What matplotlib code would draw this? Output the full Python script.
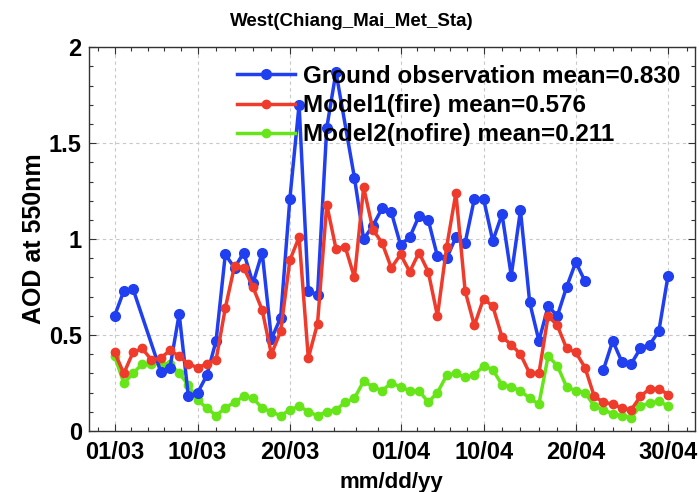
import numpy as np
import matplotlib
matplotlib.use("Agg")
import matplotlib.pyplot as plt
from matplotlib.ticker import FixedLocator

nan = np.nan

# day index from 01/03 (0) to 30/04 (60)
days = np.arange(61)

# ground observations only exist on some days (NaN = break in the line)
ground_days = [0, 1, 2, 5, 6, 7, 8, 9, 10, 11, 12, 13, 14, 15, 16, 17, 18,
               19, 20, 21, 22, 23, 24, 26, 27, 28, 29, 30, 31, 32, 33, 34,
               35, 36, 37, 38, 39, 40, 41, 42, 43, 44, 45, 46, 47, 48, 49,
               50, 51, 52, 53, 54, 55, 56, 57, 58, 59, 60]
ground_obs = [0.60, 0.73, 0.74, 0.31, 0.33, 0.61, 0.18, 0.20, 0.29, 0.47,
              0.92, 0.85, 0.93, 0.77, 0.93, 0.48, 0.59, 1.21, 1.70, 0.73,
              0.71, 1.58, 1.87, 1.32, 1.00, 1.07, 1.16, 1.14, 0.97, 1.01,
              1.12, 1.10, 0.91, 0.90, 1.01, 0.98, 1.21, 1.21, 0.99, 1.13,
              0.81, 1.15, 0.67, 0.47, 0.65, 0.60, 0.75, 0.88, 0.78, nan,
              0.32, 0.47, 0.36, 0.35, 0.43, 0.45, 0.52, 0.81]

model1_fire = [0.41, 0.30, 0.41, 0.43, 0.37, 0.38, 0.42, 0.39, 0.35, 0.33,
               0.35, 0.37, 0.64, 0.86, 0.85, 0.75, 0.63, 0.40, 0.52, 0.89,
               1.01, 0.38, 0.56, 1.18, 0.95, 0.96, 0.80, 1.27, 1.05, 0.98,
               0.85, 0.92, 0.83, 0.93, 0.83, 0.60, 0.96, 1.24, 0.73, 0.55,
               0.69, 0.65, 0.49, 0.45, 0.40, 0.30, 0.30, 0.60, 0.55, 0.43,
               0.41, 0.33, 0.18, 0.15, 0.14, 0.12, 0.11, 0.18, 0.22, 0.22,
               0.19]

model2_nofire = [0.39, 0.25, 0.30, 0.35, 0.35, 0.35, 0.35, 0.30, 0.24, 0.16,
                 0.12, 0.08, 0.12, 0.15, 0.18, 0.17, 0.12, 0.10, 0.08, 0.11,
                 0.13, 0.10, 0.08, 0.10, 0.11, 0.15, 0.17, 0.26, 0.23, 0.21,
                 0.25, 0.23, 0.21, 0.21, 0.15, 0.20, 0.29, 0.30, 0.28, 0.29,
                 0.34, 0.32, 0.24, 0.23, 0.21, 0.17, 0.14, 0.39, 0.34, 0.23,
                 0.21, 0.20, 0.13, 0.11, 0.09, 0.08, 0.07, 0.13, 0.145, 0.155,
                 0.13]

labels = ["Ground observation mean=0.830",
          "Model1(fire) mean=0.576",
          "Model2(nofire) mean=0.211"]

tick_days = [0, 9, 19, 31, 40, 50, 60]
tick_labels = ["01/03", "10/03", "20/03", "01/04", "10/04", "20/04", "30/04"]
y_ticks = [0, 0.5, 1, 1.5, 2]
y_tick_labels = ["0", "0.5", "1", "1.5", "2"]

plt.rcParams["font.family"] = ["Liberation Sans", "DejaVu Sans"]
plt.rcParams["font.weight"] = "bold"

fig = plt.figure(figsize=(6.99, 4.92), dpi=100)
ax = fig.add_axes([0.127, 0.124, 0.867, 0.78])

ax.plot(ground_days, ground_obs, "-o", color="#1f3ff0", lw=2.5, ms=7,
        mfc="#1f3ff0", mec="#1f3ff0", label=labels[0], zorder=3)
ax.plot(days, model1_fire, "-o", color="#ee3b2b", lw=2.5, ms=6,
        mfc="#ee3b2b", mec="#ee3b2b", label=labels[1], zorder=4)
ax.plot(days, model2_nofire, "-o", color="#66e619", lw=2.5, ms=6,
        mfc="#66e619", mec="#66e619", label=labels[2], zorder=2)

ax.set_xlim(-2.8, 62.9)
ax.set_ylim(0, 2)
ax.set_xticks(tick_days)
ax.set_xticklabels(tick_labels)
ax.set_yticks(y_ticks)
ax.set_yticklabels(y_tick_labels)

# minor ticks: five sub-intervals between each pair of majors
minor = []
for a, b in zip(tick_days[:-1], tick_days[1:]):
    minor.extend(np.linspace(a, b, 6)[1:-1])
minor.extend([-1.8, 62.0])
ax.xaxis.set_minor_locator(FixedLocator(minor))
ax.yaxis.set_minor_locator(FixedLocator(np.arange(0.1, 2.0, 0.1)))

ax.tick_params(which="both", direction="in", top=True, right=True,
               labelsize=17, width=0.8, color="#333333")
ax.tick_params(which="major", length=5)
ax.tick_params(which="minor", length=3)
ax.tick_params(axis="x", pad=7)
ax.tick_params(axis="y", pad=5)

ax.grid(True, which="major", linestyle=(0, (3, 3)), color="#c8c8c8", lw=0.8)
for s in ax.spines.values():
    s.set_linewidth(1.0)
    s.set_color("#333333")

ax.set_title("West(Chiang_Mai_Met_Sta)", fontsize=13.5, fontweight="bold",
             x=0.434, pad=15)
ax.set_xlabel("mm/dd/yy", fontsize=16, fontweight="bold", labelpad=6)
ax.set_ylabel("AOD at 550nm", fontsize=18, fontweight="bold", labelpad=2)

ax.legend(loc="upper left", bbox_to_anchor=(237 / 699, 1 - 65 / 492),
          bbox_transform=fig.transFigure, frameon=False, fontsize=17.5,
          borderpad=0, borderaxespad=0, labelspacing=0.25,
          handlelength=2.4, handletextpad=0.3)

fig.savefig("out.png", dpi=100)
